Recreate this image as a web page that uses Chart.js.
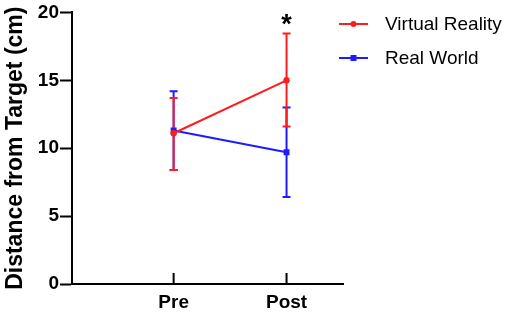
<!DOCTYPE html>
<html>
<head>
<meta charset="utf-8">
<script src="https://cdn.jsdelivr.net/npm/chart.js@4.4.1/dist/chart.umd.min.js"></script>
<style>
  html, body { margin: 0; padding: 0; background: #fff; }
  #wrap { width: 510px; height: 316px; }
</style>
</head>
<body>
<div id="wrap"><canvas id="chart"></canvas></div>
<script>
// Data
const timepoints = ['Pre', 'Post'];
const seriesNames = ['Virtual Reality', 'Real World'];
const vrMeans = [11.1, 15.0];
const vrUpper = [13.7, 18.45];
const vrLower = [8.4, 11.6];
const rwMeans = [11.3, 9.7];
const rwUpper = [14.2, 13.0];
const rwLower = [8.4, 6.4];
const yTicks = [0, 5, 10, 15, 20];
const sigMarks = [{ at: 'Post', y: 19.3, text: '*' }];

const RED = '#ff1c1c';
const BLUE = '#1c1cff';
const FONT = "'Liberation Sans', Arial, sans-serif";

function toPoints(means) {
  return means.map((v, i) => ({ x: i + 1, y: v }));
}

// Error bars (drawn under the lines), blue first so red sits on top
const errorBars = {
  id: 'errorBars',
  beforeDatasetsDraw(chart) {
    const ctx = chart.ctx;
    const xs = chart.scales.x, ys = chart.scales.y;
    const sets = [
      { lo: rwLower, hi: rwUpper, color: BLUE },
      { lo: vrLower, hi: vrUpper, color: RED }
    ];
    ctx.save();
    ctx.lineWidth = 2;
    sets.forEach(s => {
      ctx.strokeStyle = s.color;
      s.lo.forEach((lo, i) => {
        const px = xs.getPixelForValue(i + 1);
        const top = ys.getPixelForValue(s.hi[i]);
        const bot = ys.getPixelForValue(lo);
        ctx.beginPath();
        ctx.moveTo(px, top); ctx.lineTo(px, bot);
        ctx.moveTo(px - 4, top); ctx.lineTo(px + 4, top);
        ctx.moveTo(px - 4, bot); ctx.lineTo(px + 4, bot);
        ctx.stroke();
      });
    });
    ctx.restore();
  }
};

// x tick marks point up into the plot, plus the significance star and legend
const extras = {
  id: 'extras',
  afterDraw(chart) {
    const ctx = chart.ctx;
    const xs = chart.scales.x, ys = chart.scales.y;
    const base = chart.chartArea.bottom;
    ctx.save();
    ctx.strokeStyle = '#000';
    ctx.lineWidth = 2;
    timepoints.forEach((t, i) => {
      const px = xs.getPixelForValue(i + 1);
      ctx.beginPath();
      ctx.moveTo(px, base);
      ctx.lineTo(px, base - 11);
      ctx.stroke();
    });

    ctx.fillStyle = '#000';
    ctx.font = 'bold 27px ' + FONT;
    ctx.textAlign = 'center';
    ctx.textBaseline = 'middle';
    sigMarks.forEach(m => {
      const px = xs.getPixelForValue(timepoints.indexOf(m.at) + 1);
      ctx.fillText(m.text, px, ys.getPixelForValue(m.y) + 4);
    });

    // legend
    const lx = 339, lw = 29;
    chart.data.datasets.forEach((ds, i) => {
      const ly = 24 + i * 34;
      ctx.strokeStyle = ds.borderColor;
      ctx.fillStyle = ds.borderColor;
      ctx.lineWidth = 2;
      ctx.beginPath();
      ctx.moveTo(lx, ly); ctx.lineTo(lx + lw, ly);
      ctx.stroke();
      const mx = lx + lw / 2;
      if (ds.pointStyle === 'rect') {
        ctx.fillRect(mx - 3, ly - 3, 6, 6);
      } else {
        ctx.beginPath();
        ctx.arc(mx, ly, 3, 0, Math.PI * 2);
        ctx.fill();
      }
      ctx.fillStyle = '#000';
      ctx.font = '19px ' + FONT;
      ctx.textAlign = 'left';
      ctx.textBaseline = 'middle';
      ctx.fillText(ds.label, 385, ly + 1);
    });
    ctx.restore();
  }
};

new Chart(document.getElementById('chart'), {
  type: 'line',
  data: {
    datasets: [
      {
        label: seriesNames[0],
        data: toPoints(vrMeans),
        borderColor: RED,
        backgroundColor: RED,
        borderWidth: 2,
        pointStyle: 'circle',
        pointRadius: 3.2,
        pointBorderWidth: 0
      },
      {
        label: seriesNames[1],
        data: toPoints(rwMeans),
        borderColor: BLUE,
        backgroundColor: BLUE,
        borderWidth: 2,
        pointStyle: 'rect',
        pointRadius: 4.2,
        pointBorderWidth: 0
      }
    ]
  },
  options: {
    responsive: true,
    maintainAspectRatio: false,
    animation: false,
    layout: { padding: { left: 0, right: 167, top: 9, bottom: 0 } },
    plugins: {
      legend: { display: false },
      tooltip: { enabled: false }
    },
    scales: {
      x: {
        type: 'linear',
        min: 0.1,
        max: 2.5,
        afterBuildTicks: axis => { axis.ticks = timepoints.map((t, i) => ({ value: i + 1 })); },
        afterFit: axis => { axis.height = 32; },
        ticks: {
          callback: v => timepoints[v - 1] || '',
          color: '#000',
          font: { family: FONT, size: 19, weight: 'bold' },
          padding: 7,
          maxRotation: 0
        },
        grid: { display: false, drawTicks: false },
        border: { display: true, color: '#000', width: 2 }
      },
      y: {
        min: 0,
        max: 20,
        afterBuildTicks: axis => { axis.ticks = yTicks.map(v => ({ value: v })); },
        afterFit: axis => { axis.width = 72; },
        ticks: {
          color: '#000',
          font: { family: FONT, size: 19, weight: 'bold' },
          padding: 1
        },
        grid: {
          drawOnChartArea: false,
          drawTicks: true,
          tickLength: 12,
          tickWidth: 2,
          tickColor: '#000'
        },
        border: { display: true, color: '#000', width: 2 },
        title: {
          display: true,
          text: 'Distance from Target (cm)',
          color: '#000',
          font: { family: FONT, size: 23, weight: 'bold' },
          padding: { top: 2, bottom: 0 }
        }
      }
    }
  },
  plugins: [errorBars, extras]
});
</script>
</body>
</html>
